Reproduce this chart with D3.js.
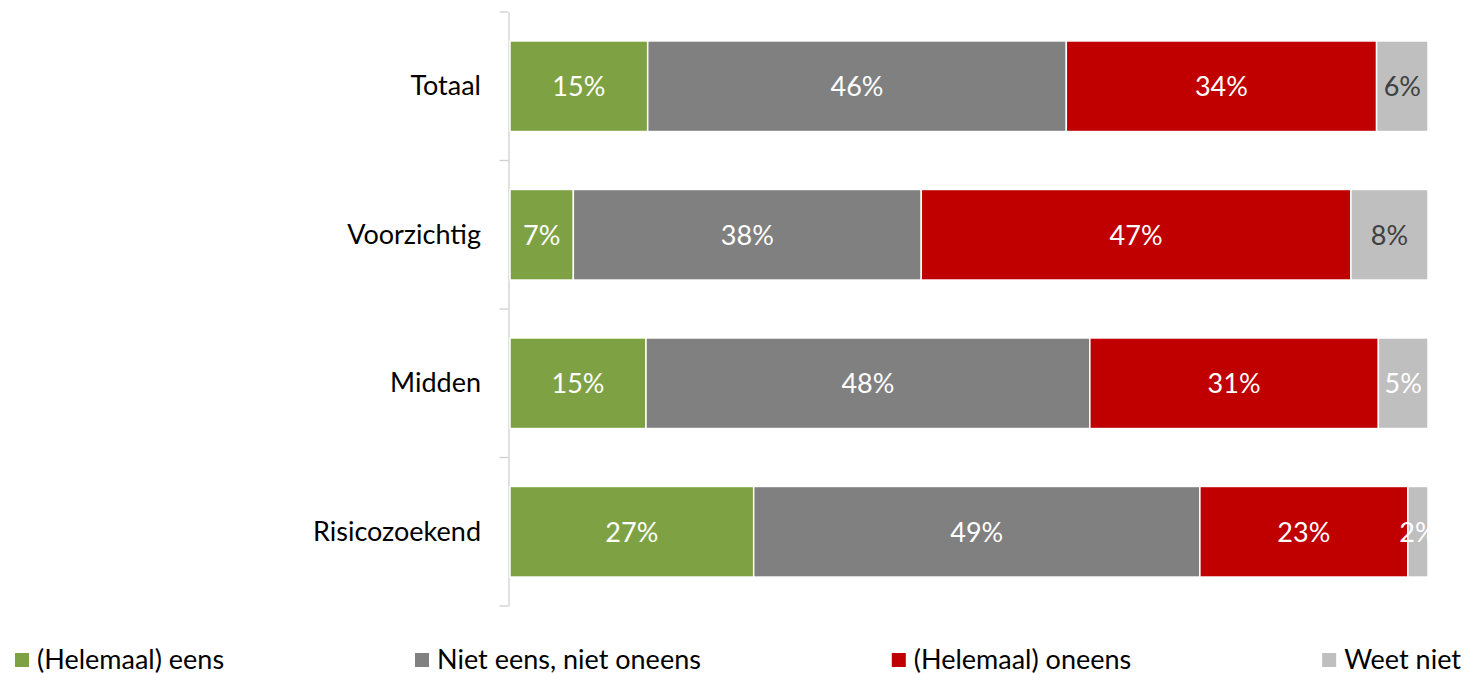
<!DOCTYPE html>
<html>
<head>
<meta charset="utf-8">
<script src="https://cdn.jsdelivr.net/npm/d3@7"></script>
<style>
  body { margin: 0; background: #fff; }
  text { font-family: Lato, "Open Sans", sans-serif; }
</style>
</head>
<body>
<svg id="chart" width="1468" height="673"></svg>
<script>
// categories and series (shares of each row)
var categories = ["Totaal", "Voorzichtig", "Midden", "Risicozoekend"];
var seriesNames = ["(Helemaal) eens", "Niet eens, niet oneens", "(Helemaal) oneens", "Weet niet"];
var eens     = [15.0, 6.9, 14.8, 26.6];
var neutraal = [45.6, 37.9, 48.3, 48.7];
var oneens   = [33.8, 46.8, 31.4, 22.7];
var weetNiet = [5.6, 8.4, 5.4, 2.2];

var colors = ["#7ea243", "#808080", "#c00000", "#bfbfbf"];
// label colour used on the "Weet niet" segments
var weetNietLabelColor = ["#404040", "#404040", "#ffffff", "#ffffff"];

var svg = d3.select("#chart");

var rows = categories.map(function(c, i) {
  var vals = [eens[i], neutraal[i], oneens[i], weetNiet[i]];
  var sum = d3.sum(vals);
  var row = { cat: c };
  seriesNames.forEach(function(s, j) { row[s] = vals[j] / sum; row["raw" + j] = vals[j]; });
  return row;
});

var stack = d3.stack().keys(seriesNames);
var layers = stack(rows);

var x = d3.scaleLinear().domain([0, 1]).range([510, 1428]);
var y = d3.scaleBand().domain(categories).range([12, 606]).paddingInner(0.39).paddingOuter(0.195);
var color = d3.scaleOrdinal().domain(seriesNames).range(colors);

// axis
var axis = d3.axisLeft(y).tickSize(0).tickFormat("");
var axisG = svg.append("g").attr("transform", "translate(508.5,0)").call(axis);
axisG.select(".domain").attr("stroke", "#d0d0d0").attr("stroke-width", 1.3);
var bounds = categories.map(function(c) { return y(c) - y.step() * y.paddingInner() / 2; });
bounds.push(y.range()[1]);
axisG.selectAll("line.bnd").data(bounds).enter().append("line")
  .attr("class", "bnd")
  .attr("x1", -9).attr("x2", 0)
  .attr("y1", function(d) { return d; }).attr("y2", function(d) { return d; })
  .attr("stroke", "#d0d0d0").attr("stroke-width", 1.3);

// category labels
svg.append("g").selectAll("text").data(categories).enter().append("text")
  .attr("x", 481)
  .attr("y", function(d) { return y(d) + y.bandwidth() / 2 + 9; })
  .attr("text-anchor", "end")
  .attr("font-size", 27)
  .attr("fill", "#000")
  .text(function(d) { return d; });

// bars
var fmt = d3.format(".0f");
var layerG = svg.append("g").selectAll("g").data(layers).enter().append("g")
  .attr("fill", function(d) { return color(d.key); });

layerG.selectAll("rect").data(function(d) { return d; }).enter().append("rect")
  .attr("x", function(d) { return x(d[0]); })
  .attr("y", function(d) { return y(d.data.cat); })
  .attr("width", function(d) { return x(d[1]) - x(d[0]); })
  .attr("height", y.bandwidth())
  .attr("stroke", "#fff")
  .attr("stroke-width", 1.5);

layers.forEach(function(layer, j) {
  svg.append("g").selectAll("text").data(layer).enter().append("text")
    .attr("x", function(d) { return (x(d[0]) + x(d[1])) / 2; })
    .attr("y", function(d) { return y(d.data.cat) + y.bandwidth() / 2 + 10; })
    .attr("text-anchor", "middle")
    .attr("font-size", 27)
    .attr("fill", function(d, i) { return j === 3 ? weetNietLabelColor[i] : "#fff"; })
    .text(function(d) { return fmt(d.data["raw" + j]) + "%"; });
});

// legend, equal gaps between items
var legend = svg.append("g");
var items = legend.selectAll("g").data(seriesNames).enter().append("g");
items.append("rect")
  .attr("width", 14).attr("height", 14)
  .attr("y", 653)
  .attr("fill", function(d) { return color(d); });
items.append("text")
  .attr("x", 22).attr("y", 669)
  .attr("font-size", 27)
  .attr("fill", "#000")
  .text(function(d) { return d; });

var widths = [];
items.each(function() { widths.push(22 + d3.select(this).select("text").node().getComputedTextLength()); });
var left = 15, right = 1461;
var gap = (right - left - d3.sum(widths)) / (widths.length - 1);
var pos = left;
items.attr("transform", function(d, i) {
  var t = "translate(" + pos + ",0)";
  pos += widths[i] + gap;
  return t;
});
</script>
</body>
</html>
